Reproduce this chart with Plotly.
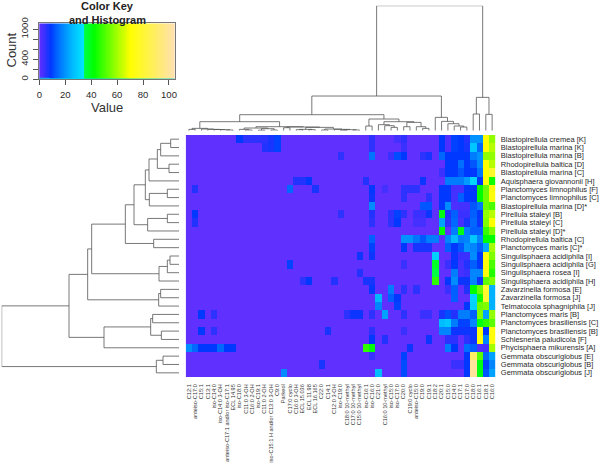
import numpy as np
import plotly.graph_objects as go

row_labels = ["Blastopirellula cremea [K]", "Blastopirellula marina [K]", "Blastopirellula marina [B]",
    "Rhodopirellula baltica [D]", "Blastopirellula marina [C]", "Aquisphaera giovannonii [H]",
    "Planctomyces limnophilus [F]", "Planctomyces limnophilus [C]", "Blastopirellula marina [D]*",
    "Pirellula staleyi [B]", "Pirellula staleyi [C]", "Pirellula staleyi [D]*",
    "Rhodopirellula baltica [C]", "Planctomyces maris [C]*", "Singulisphaera acidiphila [I]",
    "Singulisphaera acidiphila [G]", "Singulisphaera rosea [I]", "Singulisphaera acidiphila [H]",
    "Zavarzinella formosa [E]", "Zavarzinella formosa [J]", "Telmatocola sphagniphila [J]",
    "Planctomyces maris [B]", "Planctomyces brasiliensis [C]", "Planctomyces brasiliensis [B]",
    "Schlesneria paludicola [F]", "Phycisphaera mikurensis [A]", "Gemmata obscuriglobus [E]",
    "Gemmata obscuriglobus [B]", "Gemmata obscuriglobus [J]"]

col_labels = ["C12:1", "anteiso-C17:0", "C15:1", "C13:1", "iso-C14:0", "iso-C14:0 3-OH",
    "anteiso-C17:1 and/or iso-C17:1", "ECL 14.95", "iso-C18:0", "C11:0 3-OH", "C16:0 2-OH", "iso-C19:1",
    "C11:0 2-OH", "iso-C15:1 H and/or C13:0 3-OH", "C9:0", "Parkeol", "C17:0 cyclo", "C16:0 3-OH",
    "ECL 15.036", "ECL 11.98", "ECL 16.165", "C22:0", "C14:1", "C12:0 3-OH", "iso-C19:0",
    "C18:0 10-methyl", "C17:0 10-methyl", "C15:0 10-methyl", "iso-C16:1", "iso-C16:0", "C21:0",
    "C16:0 10-methyl", "iso-C15:0", "iso-C17:0", "C20:0", "C19:0 cyclo", "anteiso-C15:0", "C19:0",
    "C19:1", "C18:2", "C20:1", "C15:0", "C14:0", "C17:1", "C17:0", "C18:0", "C16:1", "C18:1", "C16:0"]

values = [
 [0,0,0,0,0,0,0,0,9,5,5,5,5,7,10,0,0,0,0,0,0,0,0,0,0, 0,0,0,0,5,0,0,0,3,5,0,0,0,0,0,9,2,10,9,6,20,20,70,58],
 [0,0,0,0,0,0,0,0,0,0,0,0,6,7,10,0,0,0,0,0,0,0,0,0,0, 0,0,0,0,5,0,0,0,0,4,0,0,0,0,0,9,2,10,9,7,28,14,70,62],
 [0,0,0,0,0,0,0,0,0,0,0,0,0,0,0,0,0,0,0,0,0,0,0,0,5, 0,0,0,0,16,0,0,4,11,9,0,0,5,7,0,14,9,9,9,9,17,20,58,58],
 [0,0,0,0,0,0,0,0,0,0,0,0,0,0,0,0,0,0,0,0,0,0,0,0,0, 0,0,0,0,0,0,0,0,0,0,0,0,0,0,0,0,9,9,15,9,12,19,70,62],
 [0,0,0,0,0,0,0,0,0,0,0,0,0,0,0,0,0,0,0,0,0,0,0,0,0, 0,0,0,0,0,0,0,0,0,0,0,0,0,0,0,4,9,9,12,9,9,16,70,78],
 [0,0,0,0,0,0,0,0,0,0,0,0,0,0,0,0,0,6,6,9,0,0,0,0,0, 0,0,0,6,0,0,0,0,0,0,0,0,8,0,0,0,17,17,17,21,31,9,72,44],
 [0,6,0,0,0,0,0,0,0,0,0,0,0,0,0,0,14,0,0,0,7,0,0,0,0, 0,0,0,0,9,0,3,0,0,5,5,5,0,0,0,9,9,3,3,9,9,42,54,72],
 [0,0,0,0,0,0,0,0,0,0,0,0,0,0,0,0,0,0,0,0,0,0,0,0,0, 0,0,0,0,8,0,0,0,0,5,0,0,0,5,0,9,9,3,13,9,9,42,54,72],
 [0,0,0,0,0,0,0,0,0,0,0,0,0,0,0,0,0,0,0,0,0,0,0,0,0, 0,0,0,0,19,0,0,0,0,0,0,0,12,12,0,9,19,2,3,3,12,16,54,50],
 [0,9,0,0,0,0,0,0,0,0,0,0,0,0,0,0,0,0,0,0,0,0,0,0,5, 0,0,0,0,6,0,0,5,10,5,0,4,4,8,0,40,6,13,4,4,13,9,58,62],
 [0,6,0,0,0,0,0,0,0,0,0,0,0,0,0,0,0,0,0,0,0,0,0,0,0, 0,0,0,0,5,0,0,5,9,0,0,3,3,0,0,22,5,14,3,7,14,8,56,70],
 [0,0,0,0,0,0,0,0,0,0,0,0,0,0,0,0,0,0,0,0,0,0,0,0,0, 0,0,0,0,0,0,0,0,0,0,0,0,0,0,0,42,0,17,40,17,13,13,48,56],
 [0,0,0,0,0,0,0,0,0,0,0,0,0,0,0,0,0,0,0,0,0,0,0,0,0, 0,0,0,0,13,0,0,0,0,20,20,16,12,17,17,0,18,25,17,18,28,18,42,42],
 [0,0,0,0,0,0,0,0,0,0,0,0,0,0,0,0,0,0,0,0,0,0,0,0,0, 0,0,0,0,10,0,0,0,0,9,0,7,7,7,0,0,13,9,12,20,18,13,23,60],
 [0,0,0,0,0,0,0,0,0,0,0,0,0,0,0,0,0,0,0,0,0,0,0,0,0, 0,0,8,0,8,0,0,0,0,0,0,0,0,0,30,0,0,8,4,4,19,9,72,56],
 [0,0,0,0,0,0,0,0,0,0,0,0,0,0,0,0,10,0,0,0,0,0,0,0,0, 0,0,0,0,0,0,0,0,0,4,0,0,0,0,38,0,4,9,3,6,13,9,72,50],
 [0,0,0,0,0,0,0,0,0,0,0,0,0,0,0,0,0,0,0,0,0,0,0,0,0, 0,0,6,0,0,0,0,0,0,0,0,0,0,0,35,0,0,17,3,4,18,18,72,46],
 [0,0,0,0,0,0,0,0,0,0,0,0,0,0,0,0,0,0,5,9,0,0,0,6,0, 0,0,0,7,7,0,0,0,0,0,0,0,0,0,47,0,9,19,8,8,18,8,52,56],
 [0,0,0,0,0,0,0,0,0,0,0,0,0,0,0,0,0,0,0,0,0,0,0,0,0, 0,0,0,0,9,0,0,17,0,5,0,5,0,0,0,0,4,13,0,6,42,54,78,24],
 [0,0,0,0,0,0,0,0,0,0,0,0,0,0,0,0,0,0,0,0,0,0,0,0,0, 0,0,0,0,0,25,0,13,9,0,0,0,0,0,0,0,0,13,0,0,31,44,80,24],
 [0,0,0,0,0,0,0,0,0,0,0,0,0,0,0,0,0,0,0,0,0,0,0,0,0, 0,0,0,0,0,18,0,0,10,0,0,0,0,0,0,0,0,0,0,9,30,54,56,24],
 [0,0,9,0,5,0,0,0,0,0,0,0,0,0,0,0,0,0,0,0,0,0,0,0,0, 5,8,8,0,5,0,22,0,0,5,0,0,4,4,0,7,11,6,17,17,13,56,22,58],
 [0,0,0,0,0,0,0,0,0,0,0,0,0,0,0,0,0,0,0,0,0,0,0,0,0, 0,0,0,0,0,0,0,0,0,0,0,0,0,0,0,26,28,17,10,10,18,40,47,52],
 [0,0,9,0,5,0,0,0,0,0,0,0,0,0,0,0,0,0,0,0,0,0,7,0,0, 0,0,0,0,5,0,0,0,0,4,0,0,0,0,0,18,18,8,8,8,8,72,9,72],
 [0,0,0,0,0,0,0,0,0,0,0,0,0,0,0,0,0,0,0,0,0,0,0,0,0, 0,0,0,0,9,0,6,0,0,0,0,0,0,8,0,0,5,5,0,5,8,72,18,72],
 [19,14,9,9,9,14,9,9,0,0,0,0,0,0,0,0,0,0,0,0,0,0,0,0,0, 0,0,0,47,41,0,0,0,0,0,8,0,0,0,0,0,17,9,0,15,13,2,3,60],
 [0,0,0,0,0,0,0,0,0,0,0,0,0,0,0,0,0,0,0,0,0,0,0,0,0, 0,0,0,0,4,0,0,0,0,10,0,0,0,0,0,0,0,0,0,9,90,52,14,22],
 [0,0,0,0,0,0,0,0,0,0,0,0,0,0,0,0,0,0,0,0,0,7,0,0,0, 0,0,0,0,0,0,0,0,0,11,0,0,0,0,0,0,0,4,4,9,100,40,10,18],
 [0,0,0,0,0,0,0,0,0,0,0,0,0,0,0,19,0,0,0,0,0,0,0,0,0, 0,0,0,0,0,26,0,0,0,11,0,0,0,0,0,0,0,0,0,9,100,40,12,22],
]

# Dendrograms: (height, left, right); plain ints are leaf indices
row_tree = (532,
  (330,
    (274,
      (262,
        (161,
          (135,
            (101,
              (90, (65, (55, (25, 0, 1), 2), (30, 3, 4)), 5),
              (89, (35, 6, 7), 8)),
            (94, (35, 9, 10), 11)),
          (76, 12, 13)),
        (60, (35, (27, 14, 15), 16), 17)),
      (61, (55, 18, 19), 20)),
    (225, (85, (79, 21, 22), (53, 23, 24)), 25)),
  (68, (48, 26, 27), 28))

col_tree = (375,
  (104,
    (48,
      (27,
        (7, (4, 0, 1), (5, 2, (4, 3, (3.5, 4, (3, 5, (2, 6, 7)))))),
        (12,
          (8, (4, 8, (2, 9, 10)), (6, (1.5, 11, 12), (2, 13, 14))),
          (11,
            (9, 15, 16),
            (10,
              (4, (3, 17, 18), (3, 19, 20)),
              (5, (2, 21, 22), (4, 23, (3, (1.5, 24, 25), (2, 26, 27)))))))),
      (35,
        (14, 28, 29),
        (27,
          (18, 30, (15, 31, (10, 32, 33))),
          (25, (12, 34, 35), (12, 36, (7, 37, 38)))))),
    (40, 39, (28, 40, (21, 41, (14, 42, (11, 43, 44)))))),
  (100, (50, 45, 46), (49, 47, 48)))

key_stops = [(0, "#6030ff"), (4, "#3a30ff"), (9, "#0038ff"), (13, "#0060ff"), (19, "#008cff"),
             (25, "#00b8ff"), (34, "#00e5ff"), (34.01, "#00ff4d"), (42, "#00ff00"),
             (70, "#ffff00"), (104.4, "#ffe0b3")]
key_max = 104.4
key_values = np.arange(0, 104.5, 0.5)
hist_x = [0, 2, 2, 4, 4, 6, 6, 8, 8, 10, 10, 104.4]
hist_y = [22, 22, 30, 30, 26, 26, 18, 18, 10, 10, 5, 5]

colorscale = [[v / key_max, c] for v, c in key_stops]


def walk(node, segs):
    """Return (position, height) of a node, collecting its three segments."""
    if isinstance(node, int):
        return float(node), 0.0
    h, a, b = node
    pa, ha = walk(a, segs)
    pb, hb = walk(b, segs)
    segs.append(((pa, ha), (pa, h), (pb, h), (pb, hb)))
    return (pa + pb) / 2, h


def lines(tree):
    segs = []
    walk(tree, segs)
    pos, hts = [], []
    for s in segs:
        pos += [p[0] for p in s] + [None]
        hts += [p[1] for p in s] + [None]
    return pos, hts


W, H = 600, 465
hm_x = [185.7 / W, 495.3 / W]
hm_y = [1 - 377 / H, 1 - 135 / H]
FONT = "Liberation Sans"
TXT = "#2a2a2a"
LINE = "#555555"

fig = go.Figure()
fig.add_trace(go.Heatmap(z=values, x=list(range(len(col_labels))), y=list(range(len(row_labels))),
                         colorscale=colorscale, zmin=0, zmax=key_max, showscale=False, xgap=0, ygap=0))

p, h = lines(row_tree)
fig.add_trace(go.Scatter(x=h, y=p, mode="lines", line=dict(color=LINE, width=0.8), xaxis="x2", yaxis="y2"))
p, h = lines(col_tree)
fig.add_trace(go.Scatter(x=p, y=h, mode="lines", line=dict(color=LINE, width=0.8), xaxis="x3", yaxis="y3"))

fig.add_trace(go.Heatmap(z=[key_values.tolist()], x=key_values.tolist(), y=[0, 1120],
                         colorscale=colorscale, zmin=0, zmax=key_max, showscale=False,
                         xaxis="x4", yaxis="y4"))
fig.add_trace(go.Scatter(x=hist_x, y=hist_y, mode="lines", line=dict(color="#00e0e0", width=0.9),
                         xaxis="x4", yaxis="y4"))

fig.update_layout(
    width=W, height=H, margin=dict(l=0, r=0, t=0, b=0), autosize=False,
    paper_bgcolor="white", plot_bgcolor="white", showlegend=False,
    font=dict(family=FONT, color=TXT),
    xaxis=dict(domain=hm_x, range=[-0.5, 48.5], tickmode="array", tickvals=list(range(49)), ticktext=col_labels,
               automargin=False,
               tickangle=-90, tickfont=dict(size=5.6, color="#333333"), ticks="outside", ticklen=4,
               tickcolor="rgba(0,0,0,0)", showgrid=False, zeroline=False, showline=False),
    yaxis=dict(domain=hm_y, range=[28.5, -0.5], tickmode="array", tickvals=list(range(29)), ticktext=row_labels,
               automargin=False,
               side="right", tickfont=dict(size=7.5, color=TXT), ticks="outside", ticklen=3,
               tickcolor="rgba(0,0,0,0)", showgrid=False, zeroline=False, showline=False),
    xaxis2=dict(domain=[1.67 / W, 179 / W], range=[532, 0], visible=False, anchor="y2", automargin=False),
    yaxis2=dict(domain=hm_y, range=[28.5, -0.5], visible=False, anchor="x2", automargin=False),
    xaxis3=dict(domain=hm_x, range=[-0.5, 48.5], visible=False, anchor="y3", automargin=False),
    yaxis3=dict(domain=[1 - 130.7 / H, 1 - 5.7 / H], range=[0, 375], visible=False, anchor="x3", automargin=False),
    xaxis4=dict(domain=[39.3 / W, 174.7 / W], range=[0, key_max], anchor="y4", tickmode="array", automargin=False,
                tickvals=[0, 20, 40, 60, 80, 100], ticks="outside", ticklen=5, tickwidth=0.8,
                ticklabelstandoff=1,
                tickcolor=LINE, tickfont=dict(size=9.5, color=TXT), showgrid=False, zeroline=False,
                showline=True, linecolor="#777777", linewidth=0.8, mirror=True),
    yaxis4=dict(domain=[1 - 79.3 / H, 1 - 23.3 / H], range=[0, 1120], anchor="x4", tickmode="array", automargin=False,
                tickvals=[0, 200, 400, 600, 800, 1000], ticktext=["0", "", "400", "", "", "1000"],
                tickangle=-90, ticks="outside", ticklen=5, tickwidth=0.8, tickcolor=LINE,
                ticklabelstandoff=2,
                tickfont=dict(size=9.5, color=TXT), showgrid=False, zeroline=False,
                showline=True, linecolor="#777777", linewidth=0.8, mirror=True),
    annotations=[
        dict(text="Color Key", x=107 / W, y=1 - 5.5 / H, xref="paper", yref="paper", showarrow=False,
             xanchor="center", yanchor="middle",
             font=dict(size=11, color="#222222", family=FONT, weight="bold")),
        dict(text="and Histogram", x=107 / W, y=1 - 19.5 / H, xref="paper", yref="paper", showarrow=False,
             xanchor="center", yanchor="middle",
             font=dict(size=11, color="#222222", family=FONT, weight="bold")),
        dict(text="Value", x=107 / W, y=1 - 107.5 / H, xref="paper", yref="paper", showarrow=False,
             xanchor="center", yanchor="middle",
             font=dict(size=13, color="#333333", family=FONT)),
        dict(text="Count", x=10.5 / W, y=1 - 50 / H, xref="paper", yref="paper", showarrow=False, textangle=-90,
             xanchor="center", yanchor="middle",
             font=dict(size=13, color="#333333", family=FONT)),
    ],
)

fig.write_html("out.html", config={"displayModeBar": False},
               post_script="document.body.style.margin='0';document.body.style.overflow='hidden';")
